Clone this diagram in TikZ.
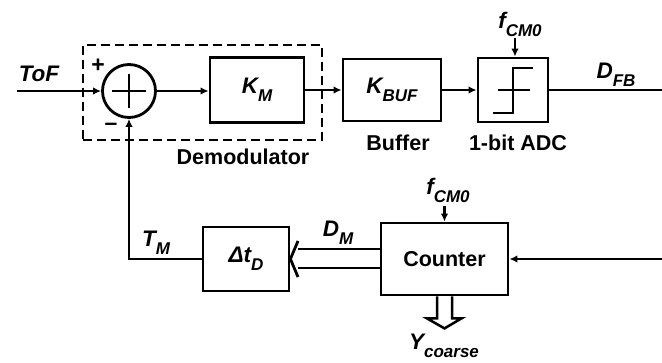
\documentclass[tikz,border=0pt]{standalone}
\usepackage{fontspec}
\setmainfont{Liberation Sans}
\usetikzlibrary{arrows.meta,calc}
\newcommand\sbs[1]{\raisebox{-0.36em}{\fontsize{17}{17}\selectfont #1}}
\begin{document}
\begin{tikzpicture}[x=1pt,y=-1pt,line width=2.5pt,
  >={Latex[length=8pt,width=7.5pt]},
  blk/.style={draw,line width=2.8pt,inner sep=0pt,rectangle},
  lab/.style={inner sep=0pt,font=\fontsize{22.5}{22.5}\selectfont\bfseries\itshape},
  txt/.style={inner sep=0pt,font=\fontsize{21.5}{21.5}\selectfont\bfseries},
  sign/.style={inner sep=0pt,font=\fontsize{23}{23}\selectfont\bfseries}]
\useasboundingbox (0,0) rectangle (662,363);
% blocks
\node[draw,circle,line width=2.8pt,minimum size=53pt,inner sep=0pt] (sum) at (129,91) {};
\node[blk,minimum width=94pt,minimum height=65pt] (km) at (257,90) {};
\node[lab] at (km.center) {K\sbs{M}};
\node[blk,minimum width=98pt,minimum height=62pt] (buf) at (392,90) {};
\node[lab] at (buf.center) {K\sbs{BUF}};
\node[blk,minimum width=70pt,minimum height=64pt] (adc) at (513,90) {};
\node[blk,minimum width=86pt,minimum height=64pt] (dt) at (246,259) {};
\node[lab] at (dt.center) {Δt\sbs{D}};
\node[blk,minimum width=127pt,minimum height=72pt] (cnt) at (444.5,259) {};
\node[txt] at (cnt.center) {Counter};
% plus in summer
\draw[line width=2.8pt] ($(sum.center)+(-17,0)$) -- ($(sum.center)+(17,0)$);
\draw[line width=2.8pt] ($(sum.center)+(0,-17)$) -- ($(sum.center)+(0,17)$);
% dashed demodulator box
\node[draw,dashed,dash pattern=on 9pt off 5pt,line width=2.8pt,inner sep=0pt,
      minimum width=239pt,minimum height=95pt] (demod) at (202.5,92.5) {};
\node[txt] (demodlab) at (243,157) {Demodulator};
\node[txt] (buflab) at (398,143) {Buffer};
\node[txt] (adclab) at (518,143) {1-bit ADC};
% step symbol
\draw[line width=2.8pt] ($(adc.center)+(-20,23)$) -- ($(adc.center)+(0,23)$)
  -- ($(adc.center)+(0,-22)$) -- ($(adc.center)+(20,-22)$);
\draw[line width=2.8pt] ($(adc.center)+(-15,0)$) -- ($(adc.center)+(17,0)$);
% signs and labels
\node[sign] (plus) at (98,66) {+};
\node[sign] (minus) at (111,127) {\textendash};
\node[lab] (tof) at (39,74) {ToF};
\coordinate (in) at (17,91);
\node[lab] (f1) at (520,24) {f\sbs{CM0}};
\node[lab] (dfb) at (616,75) {D\sbs{FB}};
\node[lab] (tm) at (156,243) {T\sbs{M}};
\node[lab] (dm) at (338,233) {D\sbs{M}};
\node[lab] (f2) at (448,190) {f\sbs{CM0}};
\node[lab] (yc) at (444,346) {Y\sbs{coarse}};
\coordinate (outr) at (662,90);
\coordinate (inr) at (662,259);
% connectors
\draw[->] (in) -- (sum.west);
\draw[->] (sum.east) -- (km.west |- sum.east);
\draw[->] (km.east) -- (buf.west);
\draw[->] (buf.east) -- (adc.west);
\draw (adc.east) -- (outr);
\draw[->] ($(adc.north)+(2,-19)$) -- ($(adc.north)+(2,0)$);
\draw[->] ($(cnt.north)+(0,-16)$) -- (cnt.north);
\draw[->] (inr) -- (cnt.east);
\draw[->] (dt.west) -| (sum.south);
% bus arrow D_M
\draw (cnt.west |- 0,249) -- (298,249);
\draw (cnt.west |- 0,268) -- (298,268);
\draw[line width=2.8pt] (298,241) -- (dt.east) -- (298,277);
% bus arrow Y_coarse
\draw[line join=miter] ($(cnt.south)+(-7.5,0)$) -- ++(0,22) -- ++(-10,0) -- ($(cnt.south)+(0,32)$)
  -- ++(17,-10) -- ++(-9.5,0) -- ($(cnt.south)+(7.5,0)$);
\end{tikzpicture}
\end{document}
